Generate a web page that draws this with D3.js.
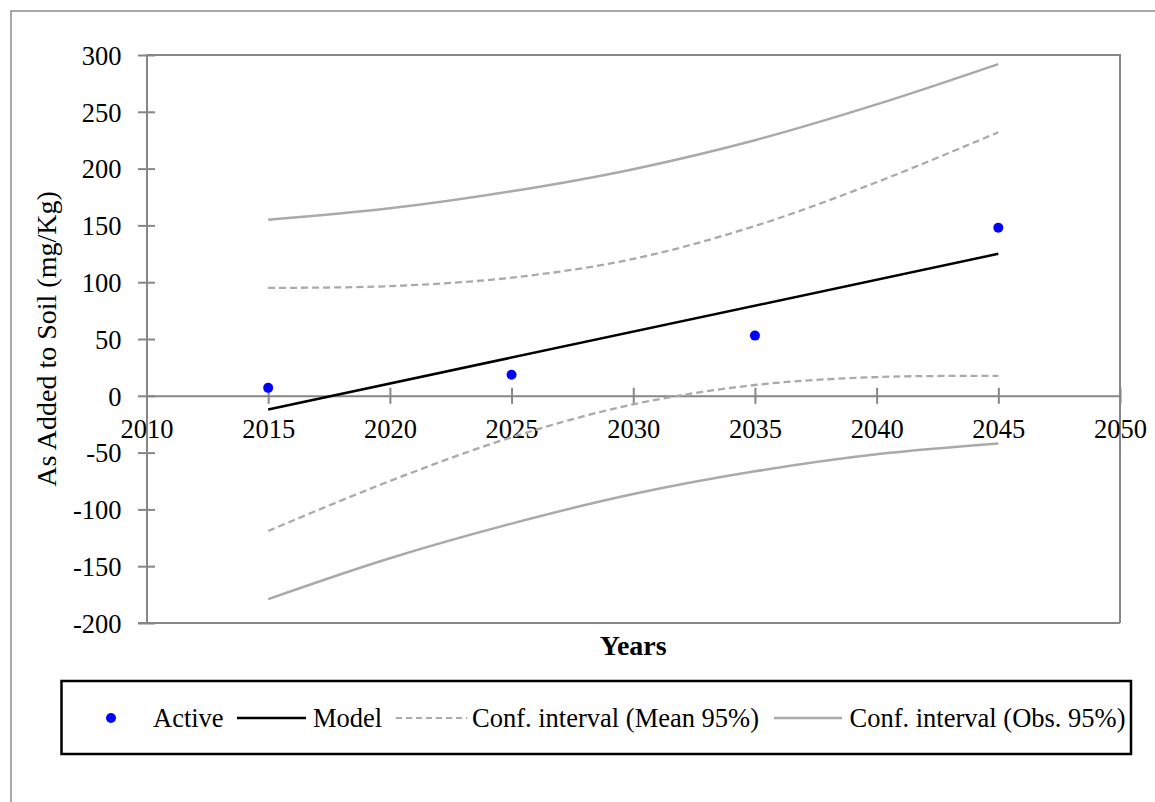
<!DOCTYPE html>
<html><head><meta charset="utf-8">
<script src="https://cdn.jsdelivr.net/npm/d3@7"></script>
<style>body{margin:0;background:#fff}svg{display:block}text{font-family:"Liberation Serif","Times New Roman",serif;fill:#000}</style>
</head><body><svg id="c" width="1155" height="802"></svg>
<script>
// Data
const activeYears = [2015, 2025, 2035, 2045];
const activeValues = [7, 18.5, 53, 148];
const modelYears = [2015, 2045];
const modelValues = [-12, 125];
const ciYears = [2015, 2020, 2025, 2030, 2035, 2040, 2045];
const meanUpper = [95, 96.5, 104, 120.5, 149.5, 188, 232];
const meanLower = [-119, -75, -36.5, -7.5, 9.5, 16.5, 17.5];
const obsUpper = [155, 165, 180, 199.5, 225, 256.5, 292];
const obsLower = [-179, -143, -112.5, -86.5, -66.5, -51.5, -42];
const xTicks = [2010, 2015, 2020, 2025, 2030, 2035, 2040, 2045, 2050];
const yTicks = [300, 250, 200, 150, 100, 50, 0, -50, -100, -150, -200];
const legendLabels = ["Active", "Model", "Conf. interval (Mean 95%)", "Conf. interval (Obs. 95%)"];

const svg = d3.select("#c");
const L = 146.5, R = 1120, T = 55, B = 623;
const x = d3.scaleLinear().domain([2010, 2050]).range([L, R]);
const y = d3.scaleLinear().domain([-200, 300]).range([B, T]);
const axisCol = "#868686", ciCol = "#aaaaaa";
const fs = "26.5px";

// outer frame
svg.append("rect").attr("x", 11).attr("y", 11).attr("width", 1160).attr("height", 820)
  .attr("fill", "none").attr("stroke", "#8c8c8c").attr("stroke-width", 1.5);

// plot frame: top and right
svg.append("path").attr("d", `M${L},${T}H${R}V${B}`).attr("fill", "none").attr("stroke", axisCol).attr("stroke-width", 2);
svg.append("line").attr("x1", L - 8.5).attr("x2", R).attr("y1", B).attr("y2", B).attr("stroke", axisCol).attr("stroke-width", 2);

// y axis
const yAxis = d3.axisLeft(y).tickValues(yTicks).tickSize(0).tickFormat(d => String(d));
const gy = svg.append("g").attr("transform", `translate(${L},0)`).call(yAxis);
gy.select(".domain").attr("stroke", axisCol).attr("stroke-width", 2);
gy.selectAll(".tick text").attr("x", -25).attr("dy", "0.35em").style("font-size", fs).style("font-family", "Liberation Serif");
gy.selectAll(".tick").append("line").attr("x1", -8.5).attr("x2", 8.5).attr("stroke", axisCol).attr("stroke-width", 2);

// x axis at zero
const xAxis = d3.axisBottom(x).tickValues(xTicks).tickSize(0).tickFormat(d3.format("d"));
const gx = svg.append("g").attr("transform", `translate(0,${y(0)})`).call(xAxis);
gx.select(".domain").attr("stroke", axisCol).attr("stroke-width", 2);
gx.selectAll(".tick text").attr("y", 42).attr("dy", 0).style("font-size", fs).style("font-family", "Liberation Serif");
gx.selectAll(".tick").append("line").attr("y1", -8).attr("y2", 8).attr("stroke", axisCol).attr("stroke-width", 2);

// CI curves
const line = d3.line().x(d => x(d[0])).y(d => y(d[1])).curve(d3.curveCatmullRom);
const mk = arr => ciYears.map((yr, i) => [yr, arr[i]]);
[obsUpper, obsLower].forEach(a => svg.append("path").attr("d", line(mk(a))).attr("fill", "none").attr("stroke", ciCol).attr("stroke-width", 2.5));
[meanUpper, meanLower].forEach(a => svg.append("path").attr("d", line(mk(a))).attr("fill", "none").attr("stroke", ciCol).attr("stroke-width", 2.3).attr("stroke-dasharray", "7,4"));

// model
svg.append("path").attr("d", d3.line().x(d => x(d[0])).y(d => y(d[1]))(modelYears.map((yr, i) => [yr, modelValues[i]])))
  .attr("fill", "none").attr("stroke", "#000").attr("stroke-width", 2.5);

// active points
svg.selectAll(".pt").data(activeYears.map((yr, i) => [yr, activeValues[i]])).enter().append("circle")
  .attr("cx", d => x(d[0])).attr("cy", d => y(d[1])).attr("r", 5).attr("fill", "#0000ff");

// axis titles
svg.append("text").attr("transform", `translate(56,${(T + B) / 2}) rotate(-90)`).attr("text-anchor", "middle")
  .style("font-size", "28px").text("As Added to Soil (mg/Kg)");
svg.append("text").attr("x", (L + R) / 2).attr("y", 655).attr("text-anchor", "middle")
  .style("font-size", "28px").style("font-weight", "bold").text("Years");

// legend
svg.append("rect").attr("x", 61.5).attr("y", 681).attr("width", 1069.5).attr("height", 73)
  .attr("fill", "none").attr("stroke", "#000").attr("stroke-width", 2.5);
const ly = 718;
svg.append("circle").attr("cx", 111).attr("cy", ly).attr("r", 5).attr("fill", "#0000ff");
svg.append("line").attr("x1", 237).attr("x2", 306).attr("y1", ly).attr("y2", ly).attr("stroke", "#000").attr("stroke-width", 2.5);
svg.append("line").attr("x1", 396).attr("x2", 467).attr("y1", ly).attr("y2", ly).attr("stroke", ciCol).attr("stroke-width", 2.2).attr("stroke-dasharray", "6,4");
svg.append("line").attr("x1", 774).attr("x2", 842).attr("y1", ly).attr("y2", ly).attr("stroke", ciCol).attr("stroke-width", 2.5);
const lx = [153, 313, 472, 849.5];
legendLabels.forEach((t, i) => svg.append("text").attr("x", lx[i]).attr("y", 727).style("font-size", fs).text(t));
</script></body></html>
